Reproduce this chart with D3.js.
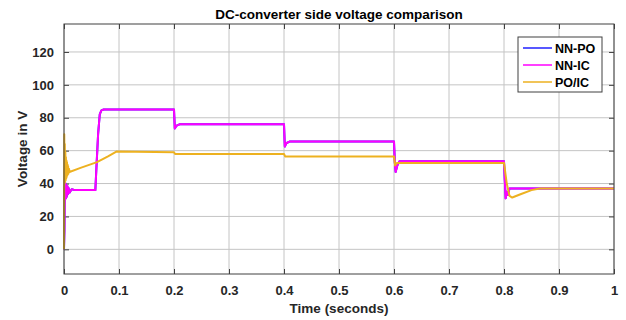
<!DOCTYPE html>
<html>
<head>
<meta charset="utf-8">
<script src="https://cdn.jsdelivr.net/npm/d3@7"></script>
<style>
  body { margin: 0; background: #fff; }
  text { font-family: "Liberation Sans", Arial, sans-serif; font-weight: bold; }
</style>
</head>
<body>
<script>
var width = 626, height = 320;
var margin = { top: 24, right: 12, bottom: 46, left: 64 };

var xTicks = [0, 0.1, 0.2, 0.3, 0.4, 0.5, 0.6, 0.7, 0.8, 0.9, 1];
var yTicks = [0, 20, 40, 60, 80, 100, 120];
var seriesNames = ['NN-PO', 'NN-IC', 'PO/IC'];
var seriesColors = ['#2020ff', '#ff00ff', '#edb120'];

// time (s) / voltage (V)
var tIC = [0, 0.0008, 0.0015, 0.002, 0.0028, 0.0035, 0.0042, 0.005, 0.006, 0.007, 0.008, 0.01, 0.014, 0.02,
  0.057, 0.059, 0.062, 0.065, 0.068, 0.072, 0.2, 0.2015, 0.204, 0.21, 0.4, 0.4015, 0.404, 0.41,
  0.6, 0.6015, 0.603, 0.606, 0.61, 0.8, 0.8015, 0.803, 0.805, 0.807, 0.81, 1];
var vIC = [0, 12, 38, 30, 40, 31, 39, 32, 38.5, 33.5, 37.5, 34.5, 36.5, 36,
  36, 50, 70, 82, 84.5, 85, 85, 73.5, 75, 76, 76, 62.5, 64.5, 65.5,
  65.5, 53, 47, 51, 53.5, 53.5, 42, 31, 35, 33, 37, 37];
var tPO = tIC.slice();
var vPO = vIC.slice();
var tPI = [0, 0.0005, 0.001, 0.0015, 0.002, 0.0025, 0.003, 0.0035, 0.004, 0.0045, 0.005, 0.0055, 0.006,
  0.0065, 0.007, 0.0075, 0.008, 0.009, 0.01,
  0.03, 0.06, 0.08, 0.096, 0.2, 0.202, 0.4, 0.402, 0.6, 0.602, 0.605,
  0.8, 0.805, 0.81, 0.815, 0.83, 0.85, 0.865, 1];
var vPI = [0, 70, 40, 64, 41, 59, 42, 56, 43, 54, 44, 53, 45,
  51.5, 45.5, 50.5, 46, 49, 47,
  49.5, 53, 56.5, 59.5, 59, 58, 58, 56.5, 56.5, 51, 52.5,
  52.5, 40, 32.5, 31.5, 33.5, 36, 37, 37];

var series = [
  { t: tPO, v: vPO },
  { t: tIC, v: vIC },
  { t: tPI, v: vPI }
];

var svg = d3.select('body').append('svg')
  .attr('width', width).attr('height', height);

var xscale = d3.scaleLinear().domain([0, 1]).range([margin.left, width - margin.right]);
var yscale = d3.scaleLinear().domain([-15, 137]).range([height - margin.bottom, margin.top]);
var x0 = margin.left, x1 = width - margin.right, y0 = height - margin.bottom, y1 = margin.top;

// grid
var grid = svg.append('g').attr('stroke', '#c4c4c4').attr('stroke-width', 1);
xTicks.forEach(function (d) {
  grid.append('line').attr('x1', xscale(d)).attr('x2', xscale(d)).attr('y1', y0).attr('y2', y1);
});
yTicks.forEach(function (d) {
  grid.append('line').attr('x1', x0).attr('x2', x1).attr('y1', yscale(d)).attr('y2', yscale(d));
});

// axes with inner ticks
var xAxis = d3.axisBottom(xscale).tickValues(xTicks).tickSize(-5).tickPadding(12)
  .tickFormat(function (d) { return d === 0 || d === 1 ? d : d3.format('.1f')(d); });
var yAxis = d3.axisLeft(yscale).tickValues(yTicks).tickSize(-5).tickPadding(10);

function styleAxis(g) {
  g.selectAll('.domain').remove();
  g.selectAll('line').attr('stroke', '#404040');
  g.selectAll('text').attr('fill', '#262626').style('font-size', '13px');
}
svg.append('g').attr('transform', 'translate(0,' + y0 + ')').call(xAxis).call(styleAxis);
svg.append('g').attr('transform', 'translate(' + x0 + ',0)').call(yAxis).call(styleAxis);
svg.append('g').attr('transform', 'translate(0,' + y1 + ')')
  .call(d3.axisTop(xscale).tickValues(xTicks).tickSize(-5).tickFormat(''))
  .call(styleAxis);
svg.append('g').attr('transform', 'translate(' + x1 + ',0)')
  .call(d3.axisRight(yscale).tickValues(yTicks).tickSize(-5).tickFormat(''))
  .call(styleAxis);

// lines
var line = d3.line()
  .x(function (d) { return xscale(d[0]); })
  .y(function (d) { return yscale(d[1]); });
series.forEach(function (s, i) {
  var pts = s.t.map(function (t, j) { return [t, s.v[j]]; });
  svg.append('path').datum(pts)
    .attr('fill', 'none')
    .attr('stroke', seriesColors[i])
    .attr('stroke-width', 2)
    .attr('stroke-linejoin', 'round')
    .attr('d', line);
});

// box
svg.append('rect').attr('x', x0).attr('y', y1).attr('width', x1 - x0).attr('height', y0 - y1)
  .attr('fill', 'none').attr('stroke', '#404040').attr('stroke-width', 1);

// title and labels
svg.append('text').attr('x', (x0 + x1) / 2).attr('y', 19).attr('text-anchor', 'middle')
  .style('font-size', '13.5px').attr('fill', '#000').text('DC-converter side voltage comparison');
svg.append('text').attr('x', (x0 + x1) / 2).attr('y', 313).attr('text-anchor', 'middle')
  .style('font-size', '13.5px').attr('fill', '#262626').text('Time (seconds)');
svg.append('text').attr('transform', 'translate(27,' + ((y0 + y1) / 2) + ') rotate(-90)')
  .attr('text-anchor', 'middle').style('font-size', '13.5px').attr('fill', '#262626').text('Voltage in V');

// legend
var lg = svg.append('g').attr('transform', 'translate(518,37)');
lg.append('rect').attr('width', 84).attr('height', 55).attr('fill', '#fff').attr('stroke', '#404040');
seriesNames.forEach(function (name, i) {
  var yy = 11 + i * 17;
  lg.append('line').attr('x1', 5).attr('x2', 34).attr('y1', yy).attr('y2', yy)
    .attr('stroke', seriesColors[i]).attr('stroke-width', 1.5);
  lg.append('text').attr('x', 37).attr('y', yy + 4.5).style('font-size', '12.5px')
    .attr('fill', '#000').text(name);
});
</script>
</body>
</html>
